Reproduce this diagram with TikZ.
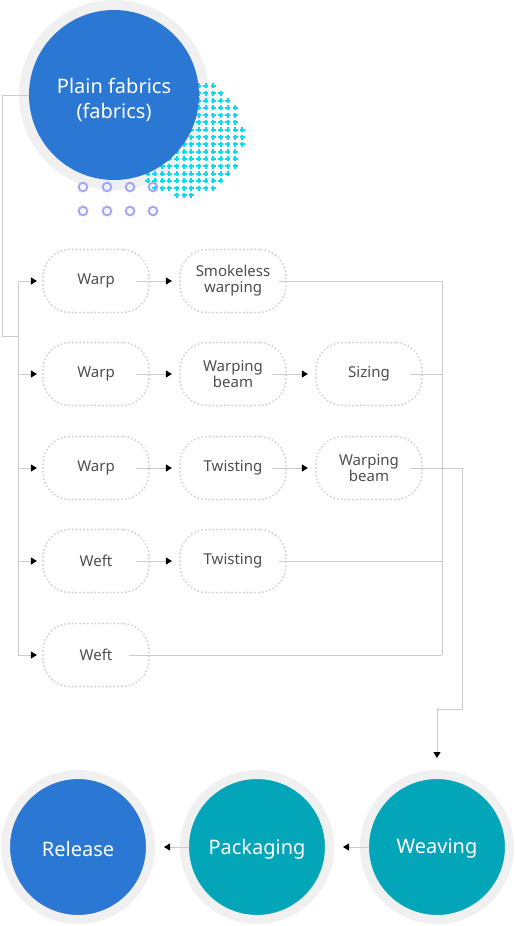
\documentclass[tikz,border=0pt]{standalone}
\usepackage{fontspec}
\setmainfont{Noto Sans}
\usetikzlibrary{arrows.meta}
\definecolor{mainblue}{HTML}{2B77D4}
\definecolor{tealc}{HTML}{03A6B9}
\definecolor{ringgray}{HTML}{F0F0F0}
\definecolor{dotgray}{HTML}{D2D2D2}
\definecolor{linegray}{HTML}{CCCCCC}
\definecolor{txtgray}{HTML}{4D4D4D}
\definecolor{plusblue}{HTML}{00DDF5}
\definecolor{lav}{HTML}{A3A9F7}
\begin{document}
\begin{tikzpicture}[x=1pt,y=-1pt,
  stepbox/.style={draw=dotgray, line width=2.2pt, dash pattern=on 0pt off 3.8pt, line cap=round,
    rounded corners=27pt, minimum width=106pt, minimum height=63pt, text=txtgray,
    font=\fontsize{15}{16}\selectfont, align=center, inner sep=0pt},
  bubtext/.style={text=white, font=\fontsize{20}{25}\selectfont, align=center, inner sep=0pt},
  bigbub/.style={circle, minimum size=145pt, draw=ringgray, line width=9pt, inner sep=0pt},
  conn/.style={draw=linegray, line width=0.9pt},
  arr/.style={conn, -{Triangle[length=6pt,width=7pt,black]}},
  lavdot/.style={draw=lav, line width=2pt}
]
\useasboundingbox (0,0) rectangle (515,926);

% top circle
\fill[ringgray] (114,95) circle (95);
\foreach \i in {-8,...,8}{\foreach \j in {-8,...,8}{
  \pgfmathtruncatemacro\ok{(\i*\i+\j*\j<=66)?1:0}
  \ifnum\ok=1
    \draw[plusblue, line width=2pt] ({184+7.3*\i-2.5},{137+7.3*\j}) -- ++(5,0)
      ({184+7.3*\i},{137+7.3*\j-2.5}) -- ++(0,5);
  \fi}}
\node[circle, minimum size=170pt, fill=mainblue, inner sep=0pt,
  label={[bubtext, yshift=-5pt]center:Plain fabrics\\(fabrics)}] (plain) at (114,95) {};
\foreach \x in {83,107,130,153}{
  \draw[lavdot] (\x,187) circle (4.3);
  \draw[lavdot] (\x,211) circle (4.3);}

% step nodes
\node[stepbox] (a1) at (96,281) {Warp};
\node[stepbox] (b1) at (233,281) {Smokeless\\warping};
\node[stepbox] (a2) at (96,374) {Warp};
\node[stepbox] (b2) at (233,374) {Warping\\beam};
\node[stepbox] (c2) at (369,374) {Sizing};
\node[stepbox] (a3) at (96,468) {Warp};
\node[stepbox] (b3) at (233,468) {Twisting};
\node[stepbox] (c3) at (369,468) {Warping\\beam};
\node[stepbox] (a4) at (96,561) {Weft};
\node[stepbox] (b4) at (233,561) {Twisting};
\node[stepbox] (a5) at (96,655) {Weft};

% bottom circles
\node[bigbub, fill=tealc, label={[bubtext, yshift=-2pt]center:Weaving}] (weav) at (437,847) {};
\node[bigbub, fill=tealc, label={[bubtext, yshift=-2pt]center:Packaging}] (pack) at (257,847) {};
\node[bigbub, fill=mainblue, label={[bubtext, yshift=-2pt]center:Release}] (rel) at (78,847) {};

% coordinates
\coordinate (lt) at (2,95);
\coordinate (lb) at (2,336);
\coordinate (lj) at (18,336);
\coordinate (L1) at (18,281);
\coordinate (L2) at (18,374);
\coordinate (L3) at (18,468);
\coordinate (L4) at (18,561);
\coordinate (L5) at (18,655);
\coordinate (R1) at (442,281);
\coordinate (R2) at (442,374);
\coordinate (R4) at (442,561);
\coordinate (R5) at (442,655);
\coordinate (Q1) at (462,468);
\coordinate (Q2) at (462,709);
\coordinate (Q3) at (437,709);

% left spine
\draw[conn] (plain.west) -- (lt) -- (lb) -- (lj);
\draw[conn] (L1) -- (L5);
\foreach \n in {1,...,5}{\draw[arr] (L\n) -- ([xshift=-5pt]a\n.west);}

% row links
\draw[arr] ([xshift=-14pt]a1.east) -- ([xshift=-7pt]b1.west);
\draw[arr] ([xshift=-14pt]a2.east) -- ([xshift=-7pt]b2.west);
\draw[arr] ([xshift=-15pt]b2.east) -- ([xshift=-7pt]c2.west);
\draw[arr] ([xshift=-14pt]a3.east) -- ([xshift=-7pt]b3.west);
\draw[arr] ([xshift=-15pt]b3.east) -- ([xshift=-7pt]c3.west);
\draw[arr] ([xshift=-14pt]a4.east) -- ([xshift=-7pt]b4.west);

% right collector
\draw[conn] ([xshift=-8pt]b1.east) -- (R1);
\draw[conn] ([xshift=-13pt]c2.east) -- (R2);
\draw[conn] ([xshift=-8pt]b4.east) -- (R4);
\draw[conn] ([xshift=-21pt]a5.east) -- (R5);
\draw[conn] (R1) -- (R5);
\draw[arr] ([xshift=-13pt]c3.east) -- (Q1) -- (Q2) -- (Q3) -- ([yshift=12pt]weav.north);

% bottom links
\draw[arr] ([xshift=9pt]weav.west) -- ([xshift=9pt]pack.east);
\draw[arr] ([xshift=9pt]pack.west) -- ([xshift=9pt]rel.east);
\end{tikzpicture}
\end{document}
